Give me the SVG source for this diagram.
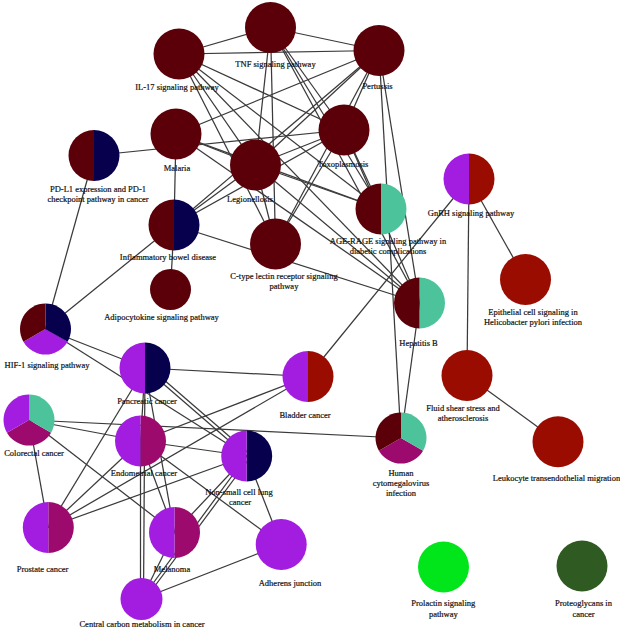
<svg xmlns="http://www.w3.org/2000/svg" xmlns:xlink="http://www.w3.org/1999/xlink" width="620" height="629" viewBox="0 0 620 629">
<style>
.e line{stroke:#3a3a3a;stroke-width:1.25;}
text{font-family:"Liberation Serif","Times New Roman",serif;font-size:8.5px;fill:#111;stroke:#111;stroke-width:0.2;text-anchor:middle;}
.mar{fill:#5b0009}.nav{fill:#07004d}.teal{fill:#4dc39b}.pur{fill:#a21de0}.red{fill:#9b0c00}.mag{fill:#9c0a6d}.lg{fill:#00e61b}.dg{fill:#2f5a21}
</style>
<defs>
<path id="lh" d="M0,-25.5 A25.5,25.5 0 0 0 0,25.5 Z"/>
<path id="rh" d="M0,-25.5 A25.5,25.5 0 0 1 0,25.5 Z"/>
<path id="tl" d="M0,0 L0,-25.5 A25.5,25.5 0 0 0 -22.08,12.75 Z"/>
<path id="tr" d="M0,0 L0,-25.5 A25.5,25.5 0 0 1 22.08,12.75 Z"/>
<path id="bt" d="M0,0 L22.08,12.75 A25.5,25.5 0 0 1 -22.08,12.75 Z"/>
</defs>
<g id="connectors" class="e">
<line x1="179" y1="54" x2="270.5" y2="27.5"/>
<line x1="179" y1="54" x2="379" y2="50.5"/>
<line x1="270.5" y1="27.5" x2="379" y2="50.5"/>
<line x1="179" y1="54" x2="255.5" y2="165"/>
<line x1="179" y1="54" x2="275.5" y2="244"/>
<line x1="179" y1="54" x2="344" y2="130"/>
<line x1="179" y1="54" x2="381" y2="209"/>
<line x1="179" y1="54" x2="419.5" y2="303"/>
<line x1="270.5" y1="27.5" x2="255.5" y2="165"/>
<line x1="270.5" y1="27.5" x2="275.5" y2="244"/>
<line x1="270.5" y1="27.5" x2="344" y2="130"/>
<line x1="270.5" y1="27.5" x2="381" y2="209"/>
<line x1="270.5" y1="27.5" x2="419.5" y2="303"/>
<line x1="379" y1="50.5" x2="176" y2="134"/>
<line x1="379" y1="50.5" x2="174" y2="225"/>
<line x1="379" y1="50.5" x2="255.5" y2="165"/>
<line x1="379" y1="50.5" x2="344" y2="130"/>
<line x1="379" y1="50.5" x2="275.5" y2="244"/>
<line x1="379" y1="50.5" x2="419.5" y2="303"/>
<line x1="379" y1="50.5" x2="401" y2="438"/>
<line x1="176" y1="134" x2="255.5" y2="165"/>
<line x1="176" y1="134" x2="174" y2="225"/>
<line x1="176" y1="134" x2="381" y2="209"/>
<line x1="176" y1="134" x2="419.5" y2="303"/>
<line x1="344" y1="130" x2="255.5" y2="165"/>
<line x1="344" y1="130" x2="174" y2="225"/>
<line x1="344" y1="130" x2="275.5" y2="244"/>
<line x1="344" y1="130" x2="381" y2="209"/>
<line x1="344" y1="130" x2="419.5" y2="303"/>
<line x1="255.5" y1="165" x2="275.5" y2="244"/>
<line x1="255.5" y1="165" x2="174" y2="225"/>
<line x1="255.5" y1="165" x2="381" y2="209"/>
<line x1="255.5" y1="165" x2="419.5" y2="303"/>
<line x1="174" y1="225" x2="419.5" y2="303"/>
<line x1="174" y1="225" x2="45.5" y2="329"/>
<line x1="174" y1="225" x2="170.5" y2="289.5"/>
<line x1="94" y1="155.5" x2="344" y2="130"/>
<line x1="94" y1="155.5" x2="45.5" y2="329"/>
<line x1="419.5" y1="303" x2="401" y2="438"/>
<line x1="469" y1="179" x2="308" y2="376.5"/>
<line x1="469" y1="179" x2="525.5" y2="279.5"/>
<line x1="469" y1="179" x2="467" y2="375.5"/>
<line x1="467" y1="375.5" x2="558" y2="441.7"/>
<line x1="45.5" y1="329" x2="145" y2="368"/>
<line x1="45.5" y1="329" x2="246.7" y2="456"/>
<line x1="145" y1="368" x2="308" y2="376.5"/>
<line x1="145" y1="368" x2="140.5" y2="441"/>
<line x1="145" y1="368" x2="143.5" y2="599"/>
<line x1="145" y1="368" x2="174.5" y2="532.5"/>
<line x1="145" y1="368" x2="246.7" y2="456"/>
<line x1="148" y1="366" x2="249.7" y2="454"/>
<line x1="145" y1="368" x2="48.3" y2="527.5"/>
<line x1="29" y1="420" x2="140.5" y2="441"/>
<line x1="29" y1="420" x2="401" y2="438"/>
<line x1="29" y1="420" x2="174.5" y2="532.5"/>
<line x1="29" y1="420" x2="48.3" y2="527.5"/>
<line x1="48.3" y1="527.5" x2="140.5" y2="441"/>
<line x1="48.3" y1="527.5" x2="246.7" y2="456"/>
<line x1="48.3" y1="527.5" x2="308" y2="376.5"/>
<line x1="140.5" y1="441" x2="308" y2="376.5"/>
<line x1="140.5" y1="441" x2="246.7" y2="456"/>
<line x1="140.5" y1="441" x2="174.5" y2="532.5"/>
<line x1="140.5" y1="441" x2="281.2" y2="544.5"/>
<line x1="140.5" y1="441" x2="140.5" y2="599"/>
<line x1="246.7" y1="456" x2="174.5" y2="532.5"/>
<line x1="246.7" y1="456" x2="141.5" y2="599"/>
<line x1="249.7" y1="458" x2="144.5" y2="600"/>
<line x1="246.7" y1="456" x2="281.2" y2="544.5"/>
<line x1="174.5" y1="532.5" x2="141.5" y2="599"/>
<line x1="141.5" y1="599" x2="281.2" y2="544.5"/>
</g>
<g id="n-tnf"><circle class="mar" cx="270.5" cy="27.5" r="25.5"/><text x="275.5" y="67">TNF signaling pathway</text></g>
<g id="n-il17"><circle class="mar" cx="179" cy="54" r="25.5"/><text x="177" y="90">IL-17 signaling pathway</text></g>
<g id="n-pertussis"><circle class="mar" cx="379" cy="50.5" r="25.5"/><text x="377.5" y="88.7">Pertussis</text></g>
<g id="n-malaria"><circle class="mar" cx="176" cy="134" r="25.5"/><text x="177" y="171">Malaria</text></g>
<g id="n-toxo"><circle class="mar" cx="344" cy="130" r="25.5"/><text x="343" y="167">Toxoplasmosis</text></g>
<g id="n-legion"><circle class="mar" cx="255.5" cy="165" r="25.5"/><text x="250" y="202">Legionellosis</text></g>
<g id="n-pdl1"><g transform="translate(94,155.5)"><use xlink:href="#rh" class="nav"/><use xlink:href="#lh" class="mar"/></g><text x="98" y="192">PD-L1 expression and PD-1</text><text x="98" y="202">checkpoint pathway in cancer</text></g>
<g id="n-ibd"><g transform="translate(174,225)"><use xlink:href="#rh" class="nav"/><use xlink:href="#lh" class="mar"/></g><text x="168" y="260">Inflammatory bowel disease</text></g>
<g id="n-ctype"><circle class="mar" cx="275.5" cy="244" r="25.5"/><text x="284" y="278.7">C-type lectin receptor signaling</text><text x="284" y="288.7">pathway</text></g>
<g id="n-agerage"><g transform="translate(381,209)"><use xlink:href="#rh" class="teal"/><use xlink:href="#lh" class="mar"/></g><text x="388" y="243.7">AGE-RAGE signaling pathway in</text><text x="388" y="253.7">diabetic complications</text></g>
<g id="n-gnrh"><g transform="translate(469,179)"><use xlink:href="#rh" class="red"/><use xlink:href="#lh" class="pur"/></g><text x="471" y="215.7">GnRH signaling pathway</text></g>
<g id="n-epithelial"><circle class="red" cx="525.5" cy="279.5" r="25.5"/><text x="533" y="314.7">Epithelial cell signaling in</text><text x="533" y="324.7">Helicobacter pylori infection</text></g>
<g id="n-hepb"><g transform="translate(419.5,303)"><use xlink:href="#rh" class="teal"/><use xlink:href="#lh" class="mar"/></g><text x="418.5" y="346">Hepatitis B</text></g>
<g id="n-adipo"><circle class="mar" cx="170.5" cy="289.5" r="20.5"/><text x="161.5" y="319.5">Adipocytokine signaling pathway</text></g>
<g id="n-hif1"><g transform="translate(45.5,329)"><use xlink:href="#bt" class="pur"/><use xlink:href="#tr" class="nav"/><use xlink:href="#tl" class="mar"/></g><text x="47" y="368">HIF-1 signaling pathway</text></g>
<g id="n-pancreatic"><g transform="translate(145,368)"><use xlink:href="#rh" class="nav"/><use xlink:href="#lh" class="pur"/></g><text x="147" y="403.7">Pancreatic cancer</text></g>
<g id="n-bladder"><g transform="translate(308,376.5)"><use xlink:href="#rh" class="red"/><use xlink:href="#lh" class="pur"/></g><text x="305" y="418">Bladder cancer</text></g>
<g id="n-fluid"><circle class="red" cx="467" cy="375.5" r="25.5"/><text x="463" y="411.3">Fluid shear stress and</text><text x="463" y="421.3">atherosclerosis</text></g>
<g id="n-colorectal"><g transform="translate(29,420)"><use xlink:href="#bt" class="mag"/><use xlink:href="#tr" class="teal"/><use xlink:href="#tl" class="pur"/></g><text x="34" y="456.3">Colorectal cancer</text></g>
<g id="n-endometrial"><g transform="translate(140.5,441)"><use xlink:href="#rh" class="mag"/><use xlink:href="#lh" class="pur"/></g><text x="144" y="476.3">Endometrial cancer</text></g>
<g id="n-nsclc"><g transform="translate(246.7,456)"><use xlink:href="#rh" class="nav"/><use xlink:href="#lh" class="pur"/></g><text x="239" y="495.3">Non-small cell lung</text><text x="240" y="505.3">cancer</text></g>
<g id="n-hcmv"><g transform="translate(401,438)"><use xlink:href="#bt" class="mag"/><use xlink:href="#tr" class="teal"/><use xlink:href="#tl" class="mar"/></g><text x="401" y="476">Human</text><text x="401" y="486.3">cytomegalovirus</text><text x="401" y="496.3">infection</text></g>
<g id="n-leukocyte"><circle class="red" cx="558" cy="441.7" r="25.5"/><text x="556.5" y="481.3">Leukocyte transendothelial migration</text></g>
<g id="n-prostate"><g transform="translate(48.3,527.5)"><use xlink:href="#rh" class="mag"/><use xlink:href="#lh" class="pur"/></g><text x="42.5" y="572.3">Prostate cancer</text></g>
<g id="n-melanoma"><g transform="translate(174.5,532.5)"><use xlink:href="#rh" class="mag"/><use xlink:href="#lh" class="pur"/></g><text x="172" y="572.3">Melanoma</text></g>
<g id="n-adherens"><circle class="pur" cx="281.2" cy="544.5" r="25.5"/><text x="290" y="586.3">Adherens junction</text></g>
<g id="n-ccm"><circle class="pur" cx="141.5" cy="599" r="21"/><text x="142" y="627.3">Central carbon metabolism in cancer</text></g>
<g id="n-prolactin"><circle class="lg" cx="443.5" cy="567" r="25.5"/><text x="443.3" y="606.3">Prolactin signaling</text><text x="443.3" y="617">pathway</text></g>
<g id="n-proteoglycans"><circle class="dg" cx="582" cy="566" r="25.5"/><text x="583.5" y="606.3">Proteoglycans in</text><text x="583.5" y="617">cancer</text></g>
</svg>
